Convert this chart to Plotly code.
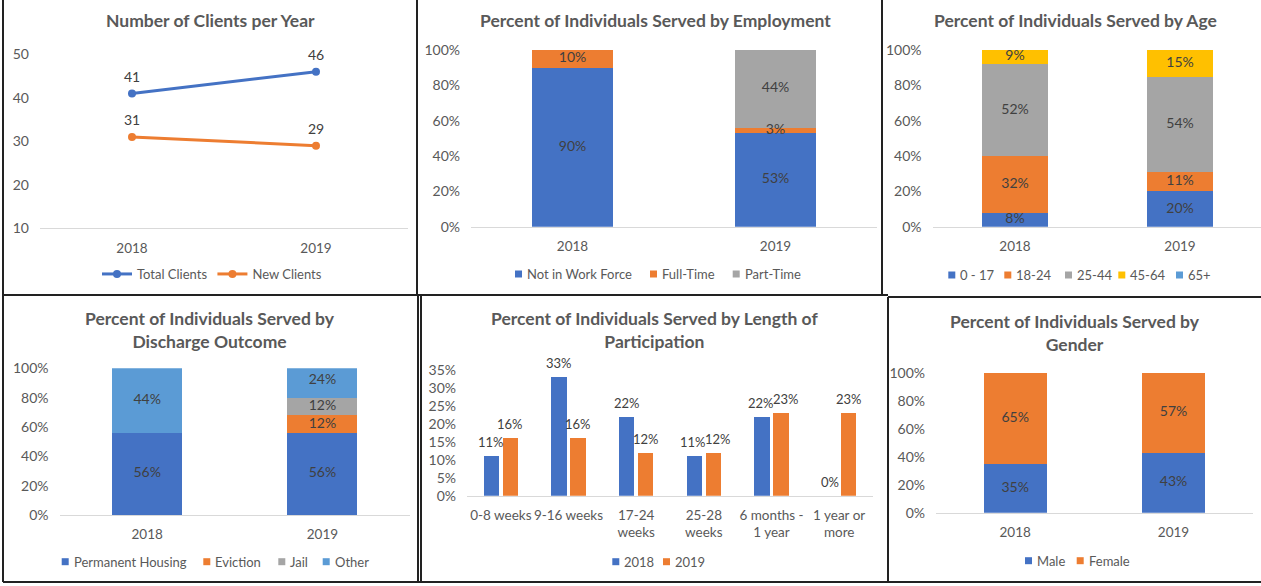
import plotly.graph_objects as go

W, H = 1261, 586

# ---------------- data ----------------
years = ["2018", "2019"]

# Number of clients per year
total_clients = [41, 46]
new_clients = [31, 29]

# Employment (%)
emp_not_in_work_force = [90, 53]
emp_full_time = [10, 3]
emp_part_time = [0, 44]

# Age (%)
age_0_17 = [8, 20]
age_18_24 = [32, 11]
age_25_44 = [52, 54]
age_45_64 = [9, 15]
age_65_plus = [0, 0]

# Discharge outcome (%)
dis_permanent_housing = [56, 56]
dis_eviction = [0, 12]
dis_jail = [0, 12]
dis_other = [44, 24]

# Length of participation (%)
length_categories = ["0-8 weeks", "9-16 weeks", "17-24<br>weeks", "25-28<br>weeks",
                     "6 months -<br>1 year", "1 year or<br>more"]
length_2018 = [11, 33, 22, 11, 22, 0]
length_2019 = [16, 16, 12, 12, 23, 23]

# Gender (%)
gender_male = [35, 43]
gender_female = [65, 57]

# ---------------- styling ----------------
BLUE = "#4472C4"
ORANGE = "#ED7D31"
GRAY = "#A5A5A5"
GOLD = "#FFC000"
LIGHTBLUE = "#5B9BD5"
AXIS_TXT = "#595959"
LABEL_TXT = "#404040"
FONT = "Lato"
TICK_SIZE = 14
XTICK_SIZE = 13.5
LABEL_SIZE = 14
SMALL_LABEL_SIZE = 13
LEGEND_SIZE = 13
TITLE_SIZE = 17.5


def px(x):
    return x / W


def py(y):
    return 1 - y / H


fig = go.Figure()
shapes = []


def stacked(series, xa, ya):
    """Stacked percentage bars plus centred value labels drawn on top."""
    base = [0] * len(years)
    label_x, label_y, label_t = [], [], []
    for name, vals, color in series:
        fig.add_trace(go.Bar(
            x=years, y=vals, name=name, marker_color=color, marker_line_width=0,
            xaxis=xa, yaxis=ya, showlegend=False, hoverinfo="skip",
        ))
        for i, v in enumerate(vals):
            if v:
                label_x.append(years[i])
                label_y.append(base[i] + v / 2)
                label_t.append(f"{v}%")
            base[i] += v
    fig.add_trace(go.Scatter(
        x=label_x, y=label_y, text=label_t, mode="text",
        textposition="middle center", cliponaxis=False,
        textfont=dict(family=FONT, size=LABEL_SIZE, color=LABEL_TXT),
        xaxis=xa, yaxis=ya, showlegend=False, hoverinfo="skip",
    ))


def square_legend(entries, y):
    """Legend row: small coloured squares followed by series names."""
    for x, name, color in entries:
        shapes.append(dict(type="rect", xref="paper", yref="paper",
                           x0=px(x), x1=px(x + 7), y0=py(y + 3.5), y1=py(y - 3.5),
                           fillcolor=color, line=dict(width=0)))
        fig.add_annotation(x=px(x + 10), y=py(y), xref="paper", yref="paper",
                           text=name, showarrow=False, xanchor="left",
                           yanchor="middle",
                           font=dict(family=FONT, size=LEGEND_SIZE, color=AXIS_TXT))


# Panel 1: line chart of client counts
for name, vals, color in [("Total Clients", total_clients, BLUE),
                          ("New Clients", new_clients, ORANGE)]:
    fig.add_trace(go.Scatter(
        x=years, y=vals, name=name, mode="lines+markers",
        line=dict(color=color, width=3), marker=dict(color=color, size=8),
        xaxis="x", yaxis="y", hoverinfo="skip",
    ))
    for i, v in enumerate(vals):
        fig.add_annotation(
            x=i, y=v, xref="x", yref="y", text=str(v), showarrow=False,
            yshift=17, yanchor="middle",
            font=dict(family=FONT, size=LABEL_SIZE, color=LABEL_TXT),
        )

# Panel 2: employment
emp_series = [("Not in Work Force", emp_not_in_work_force, BLUE),
              ("Full-Time", emp_full_time, ORANGE),
              ("Part-Time", emp_part_time, GRAY)]
stacked(emp_series, "x2", "y2")
square_legend([(515, emp_series[0][0], BLUE), (650, emp_series[1][0], ORANGE),
               (732.7, emp_series[2][0], GRAY)], 274)

# Panel 3: age
age_series = [("0 - 17", age_0_17, BLUE),
              ("18-24", age_18_24, ORANGE),
              ("25-44", age_25_44, GRAY),
              ("45-64", age_45_64, GOLD),
              ("65+", age_65_plus, LIGHTBLUE)]
stacked(age_series, "x3", "y3")
square_legend([(x, s[0], s[2]) for x, s in
               zip([948.3, 1004.3, 1065, 1118.3, 1176], age_series)], 275)

# Panel 4: discharge outcome
dis_series = [("Permanent Housing", dis_permanent_housing, BLUE),
              ("Eviction", dis_eviction, ORANGE),
              ("Jail", dis_jail, GRAY),
              ("Other", dis_other, LIGHTBLUE)]
stacked(dis_series, "x4", "y4")
square_legend([(x, s[0], s[2]) for x, s in
               zip([61.7, 203.3, 278.3, 322.7], dis_series)], 561.7)

# Panel 5: grouped bars (explicit base keeps them side by side, not stacked)
BAR_W = 0.225
OFFSETS = (-0.253, 0.028)
for name, vals, color, off in [("2018", length_2018, BLUE, OFFSETS[0]),
                               ("2019", length_2019, ORANGE, OFFSETS[1])]:
    fig.add_trace(go.Bar(
        x=length_categories, y=vals, base=0, width=BAR_W, offset=off,
        name=name, marker_color=color, marker_line_width=0,
        xaxis="x5", yaxis="y5", showlegend=False, hoverinfo="skip",
    ))

# value labels above the bars; when a pair sits at nearly the same height
# the right-hand label is nudged aside so the two do not collide
for i, (a, b) in enumerate(zip(length_2018, length_2019)):
    clash = abs(a - b) < 4
    for v, off, shift in [(a, OFFSETS[0], -1 if clash else 0),
                          (b, OFFSETS[1], 5 if clash else 0)]:
        fig.add_annotation(
            x=i + off + BAR_W / 2, y=v, xref="x5", yref="y5", text=f"{v}%",
            showarrow=False, yshift=14, xshift=shift, yanchor="middle",
            font=dict(family=FONT, size=SMALL_LABEL_SIZE, color=LABEL_TXT),
        )
square_legend([(612.3, "2018", BLUE), (663, "2019", ORANGE)], 561.7)

# Panel 6: gender
gen_series = [("Male", gender_male, BLUE),
              ("Female", gender_female, ORANGE)]
stacked(gen_series, "x6", "y6")
square_legend([(1025, "Male", BLUE), (1076.7, "Female", ORANGE)], 560.7)

# ---------------- axes ----------------
tickfont = dict(family=FONT, size=TICK_SIZE, color=AXIS_TXT)
xtickfont = dict(family=FONT, size=XTICK_SIZE, color=AXIS_TXT)

# (left, right, top, bottom) of each plot area in pixels
areas = {
    1: (40, 408, 54.3, 228.3),
    2: (471, 877, 50, 226.7),
    3: (932.5, 1261, 50, 226.7),
    4: (59.5, 410, 368.3, 515),
    5: (467, 873, 370.1, 495.7),
    6: (936, 1252.7, 372.7, 512.7),
}
ncat = {1: 2, 2: 2, 3: 2, 4: 2, 5: 6, 6: 2}

layout = {}
for k, (l, r, t, b) in areas.items():
    xs = "" if k == 1 else str(k)
    cat_w = 165.0 if k == 3 else (r - l) / ncat[k]
    layout[f"xaxis{xs}"] = dict(
        domain=[px(l), px(r)], anchor=f"y{xs}", type="category",
        range=[-0.5, -0.5 + (r - l) / cat_w],
        showline=True, linecolor="#D9D9D9", linewidth=1, showgrid=False,
        zeroline=False, ticks="", tickfont=xtickfont,
        ticklabelstandoff=7, fixedrange=True,
    )
    ydict = dict(
        domain=[py(b), py(t)], anchor=f"x{xs}", showgrid=False, zeroline=False,
        showline=False, ticks="", tickfont=tickfont, ticklabelstandoff=10,
        fixedrange=True,
    )
    if k == 1:
        ydict.update(range=[10, 50], dtick=10)
    elif k == 5:
        ydict.update(range=[0, 35], dtick=5, ticksuffix="%")
    else:
        ydict.update(range=[0, 100], dtick=20, ticksuffix="%")
    layout[f"yaxis{xs}"] = ydict

# ---------------- titles ----------------
titles = [
    ("Number of Clients per Year", 210, 20.5),
    ("Percent of Individuals Served by Employment", 655, 20.5),
    ("Percent of Individuals Served by Age", 1075, 20.5),
    ("Percent of Individuals Served by<br>Discharge Outcome", 210, 330),
    ("Percent of Individuals Served by Length of<br>Participation", 654, 330),
    ("Percent of Individuals Served by<br>Gender", 1075, 333),
]
for text, tx, ty in titles:
    fig.add_annotation(
        x=px(tx), y=py(ty), xref="paper", yref="paper", text=f"<b>{text}</b>",
        showarrow=False, xanchor="center", yanchor="middle",
        font=dict(family=FONT, size=TITLE_SIZE, color=AXIS_TXT),
    )

# ---------------- panel borders ----------------
border_lines = [
    (3, 0, 3, 582),        # left edge
    (417, 0, 417, 295),    # top row dividers
    (882, 0, 882, 295),
    (3, 295, 888, 295),    # row divider
    (888, 297, 1261, 297),
    (418, 295, 418, 582),  # bottom row dividers
    (421, 296, 421, 582),
    (888, 297, 888, 582),
    (3, 582, 1261, 582),   # bottom edge
]
shapes += [
    dict(type="line", xref="paper", yref="paper",
         x0=px(a), y0=py(b), x1=px(c), y1=py(d),
         line=dict(color="#222222", width=2))
    for a, b, c, d in border_lines
]

fig.update_layout(
    **layout,
    shapes=shapes,
    width=W, height=H,
    margin=dict(l=0, r=0, t=0, b=0, autoexpand=False),
    paper_bgcolor="white", plot_bgcolor="white",
    barmode="stack", bargap=0.6,
    font=dict(family=FONT, color=AXIS_TXT),
    hovermode=False,
    showlegend=True,
    legend=dict(orientation="h", x=px(212), y=py(274), xanchor="center",
                yanchor="middle", bgcolor="rgba(0,0,0,0)", traceorder="normal",
                font=dict(family=FONT, size=LEGEND_SIZE, color=AXIS_TXT)),
)

fig.write_html("out.html")
